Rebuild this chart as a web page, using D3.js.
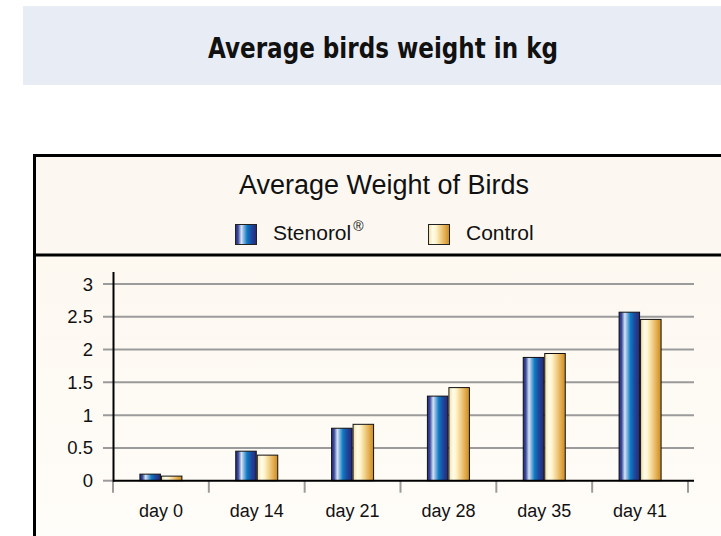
<!DOCTYPE html>
<html><head><meta charset="utf-8">
<script src="https://cdn.jsdelivr.net/npm/d3@7"></script>
<style>html,body{margin:0;padding:0;background:#fff;}svg{display:block;}</style>
</head><body>
<svg id="c" width="721" height="536"></svg>
<script>
const categories = ["day 0","day 14","day 21","day 28","day 35","day 41"];
const seriesNames = ["Stenorol","Control"];
const stenorol = [0.10, 0.45, 0.80, 1.29, 1.88, 2.57];
const control  = [0.07, 0.39, 0.86, 1.42, 1.94, 2.46];
const yTicks = [0, 0.5, 1, 1.5, 2, 2.5, 3];
const yTickLabels = ["0","0.5","1","1.5","2","2.5","3"];

const svg = d3.select("#c");
const defs = svg.append("defs");

const g1 = defs.append("linearGradient").attr("id","gBlue").attr("x1","0").attr("x2","1").attr("y1","0").attr("y2","0");
[[0,"#252a7c"],[0.12,"#3a4a9c"],[0.28,"#d6e4f6"],[0.38,"#8fb8e0"],[0.55,"#0c7cc4"],[0.75,"#1e4a9e"],[1,"#262877"]]
 .forEach(s=>g1.append("stop").attr("offset",s[0]).attr("stop-color",s[1]));
const g2 = defs.append("linearGradient").attr("id","gGold").attr("x1","0").attr("x2","1").attr("y1","0").attr("y2","0");
[[0,"#f2dca0"],[0.2,"#fffcec"],[0.35,"#fff4cc"],[0.6,"#f0cc84"],[0.85,"#dda23e"],[1,"#c88a2a"]]
 .forEach(s=>g2.append("stop").attr("offset",s[0]).attr("stop-color",s[1]));
const gBg = defs.append("linearGradient").attr("id","gBg").attr("x1","0").attr("x2","0").attr("y1","0").attr("y2","1");
gBg.append("stop").attr("offset",0).attr("stop-color","#fdf8f0");
gBg.append("stop").attr("offset",1).attr("stop-color","#fffdf9");
const fills = {Stenorol:"url(#gBlue)", Control:"url(#gGold)"};

// Banner
svg.append("rect").attr("x",23).attr("y",6).attr("width",698).attr("height",79).attr("fill","#e8ecf4");
svg.append("text").attr("x",208).attr("y",58)
  .attr("font-family","'DejaVu Sans',sans-serif").attr("font-weight","bold")
  .attr("font-size",29).attr("textLength",350).attr("lengthAdjust","spacingAndGlyphs")
  .attr("fill","#111").text("Average birds weight in kg");

// Panel
svg.append("rect").attr("x",34.5).attr("y",155.5).attr("width",700).attr("height",99).attr("fill","#fcf8f1");
svg.append("rect").attr("x",34.5).attr("y",255).attr("width",700).attr("height",290).attr("fill","url(#gBg)");
svg.append("line").attr("x1",33).attr("x2",721).attr("y1",155.5).attr("y2",155.5).attr("stroke","#000").attr("stroke-width",3);
svg.append("line").attr("x1",34.5).attr("x2",34.5).attr("y1",154).attr("y2",536).attr("stroke","#000").attr("stroke-width",3);
svg.append("line").attr("x1",33).attr("x2",721).attr("y1",255).attr("y2",255).attr("stroke","#000").attr("stroke-width",3);

svg.append("text").attr("x",384).attr("y",194).attr("text-anchor","middle")
  .attr("font-family","'Liberation Sans',Arial,sans-serif").attr("font-size",27).attr("fill","#111")
  .text("Average Weight of Birds");

// Legend
const legendX = {Stenorol:235, Control:428};
seriesNames.forEach(s=>{
  const lg = svg.append("g").attr("transform",`translate(${legendX[s]},224)`);
  lg.append("rect").attr("x",0.5).attr("y",0.5).attr("width",21).attr("height",20).attr("fill",fills[s]).attr("stroke","#222").attr("stroke-width",1);
  const t = lg.append("text").attr("x",38).attr("y",16).attr("font-family","'Liberation Sans',Arial,sans-serif")
    .attr("font-size",21).attr("fill","#111").text(s);
  if (s==="Stenorol") t.append("tspan").attr("font-size",14).attr("dy",-9).attr("dx",2).text("®");
});

// Scales
const y = d3.scaleLinear().domain([0,3]).range([480.7,284]);
const x = d3.scaleBand().domain(categories).range([113,688]).padding(0);
const groupW = 43;
const xs = d3.scaleBand().domain(seriesNames).range([0,groupW]).padding(0);

// Grid
const plot = svg.append("g");
plot.selectAll("line.grid").data(yTicks.filter(v=>v>0)).join("line")
  .attr("x1",103).attr("x2",694).attr("y1",d=>y(d)).attr("y2",d=>y(d))
  .attr("stroke","#9b9b9b").attr("stroke-width",2);
plot.append("line").attr("x1",103).attr("x2",113).attr("y1",y(0)).attr("y2",y(0)).attr("stroke","#9b9b9b").attr("stroke-width",2);

// Y labels
plot.selectAll("text.yl").data(yTicks).join("text")
  .attr("x",93).attr("y",d=>y(d)+6.5).attr("text-anchor","end")
  .attr("font-family","'Liberation Sans',Arial,sans-serif").attr("font-size",18.5).attr("fill","#111")
  .text((d,i)=>yTickLabels[i]);

// X ticks
const bounds = categories.map(c=>x(c)).concat([x(categories[categories.length-1])+x.bandwidth()]);
plot.selectAll("line.xt").data(bounds).join("line")
  .attr("x1",d=>d).attr("x2",d=>d).attr("y1",y(0)).attr("y2",y(0)+12)
  .attr("stroke","#9b9b9b").attr("stroke-width",2);

// Bars
const data = categories.map((c,i)=>({c, vals:[{s:"Stenorol",v:stenorol[i]},{s:"Control",v:control[i]}]}));
const grp = plot.selectAll("g.grp").data(data).join("g")
  .attr("transform",d=>`translate(${x(d.c)+x.bandwidth()/2-groupW/2},0)`);
grp.selectAll("rect").data(d=>d.vals).join("rect")
  .attr("x",d=>xs(d.s)+0.5).attr("width",xs.bandwidth()-1)
  .attr("y",d=>y(d.v)).attr("height",d=>y(0)-y(d.v))
  .attr("fill",d=>fills[d.s]).attr("stroke","#111").attr("stroke-width",1);

// Axes lines
plot.append("line").attr("x1",113).attr("x2",694).attr("y1",y(0)).attr("y2",y(0)).attr("stroke","#000").attr("stroke-width",2);
plot.append("line").attr("x1",113.5).attr("x2",113.5).attr("y1",272).attr("y2",y(0)+1).attr("stroke","#000").attr("stroke-width",2);

// X labels
plot.selectAll("text.xl").data(categories).join("text")
  .attr("x",d=>x(d)+x.bandwidth()/2).attr("y",517).attr("text-anchor","middle")
  .attr("font-family","'Liberation Sans',Arial,sans-serif").attr("font-size",18).attr("fill","#111")
  .text(d=>d);
</script>
</body></html>
